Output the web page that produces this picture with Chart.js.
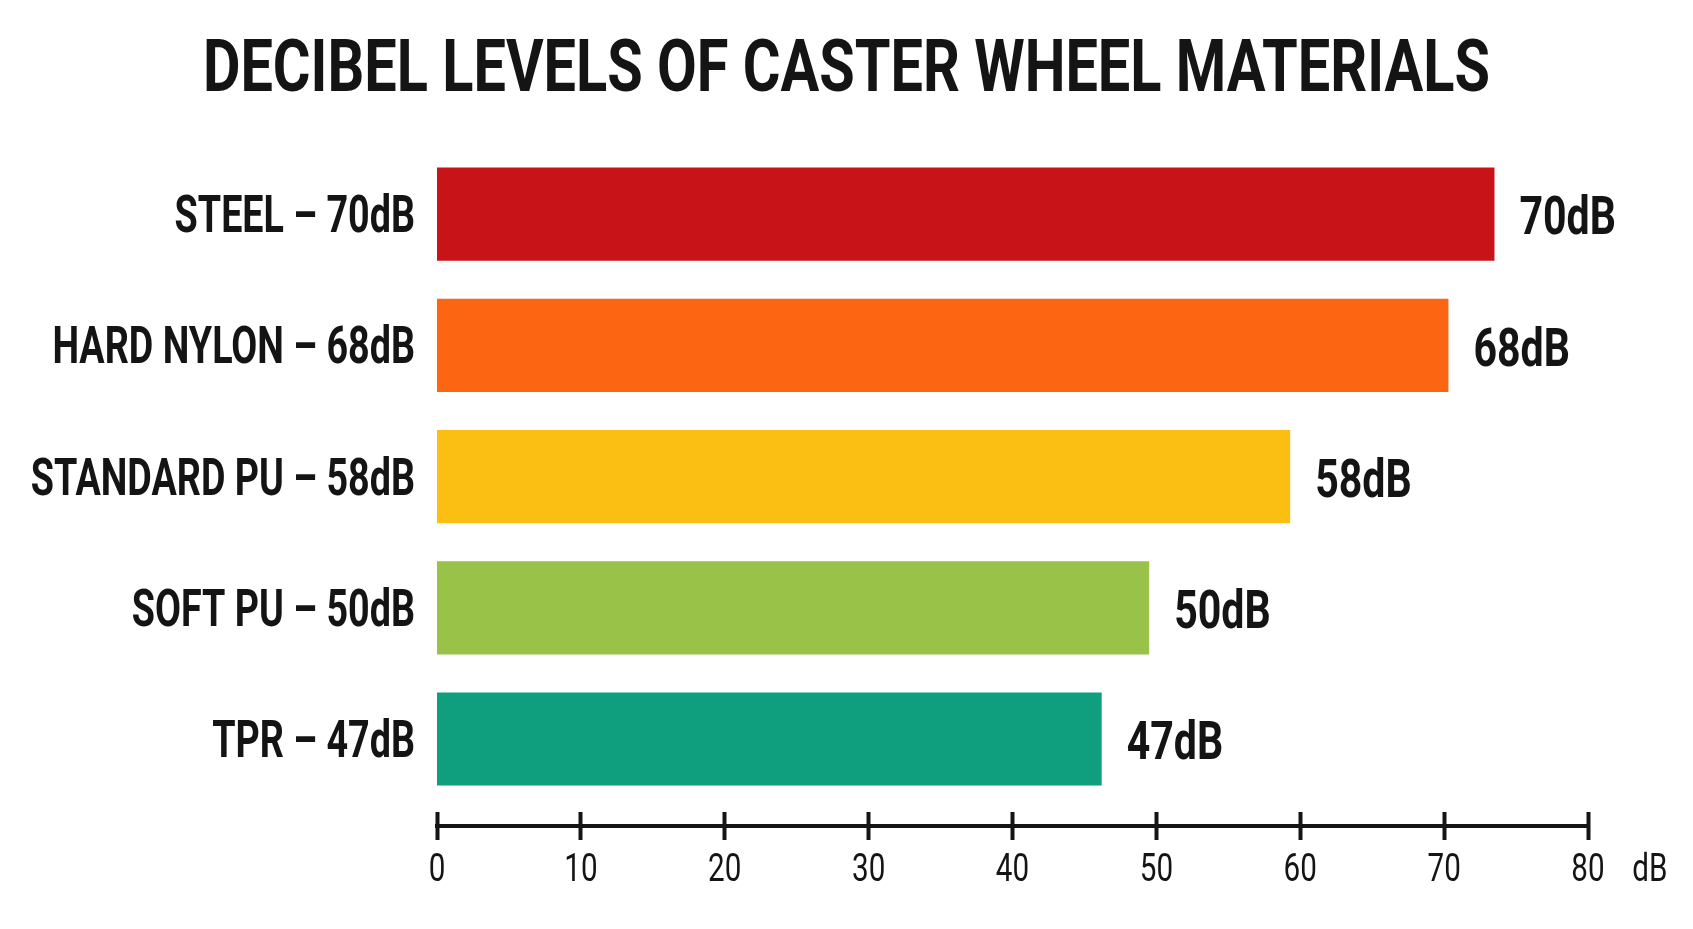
<!DOCTYPE html>
<html lang="en">
<head>
  <meta charset="UTF-8">
  <title>Decibel Levels of Caster Wheel Materials</title>
  <script src="https://cdn.jsdelivr.net/npm/chart.js"></script>
  <style>
    html, body { margin: 0; padding: 0; background: #fff; }
    #wrap { width: 1693px; height: 929px; }
  </style>
</head>
<body>
  <div id="wrap"><canvas id="dbChart"></canvas></div>

  <script>
    // values
    const materials = ['STEEL – 70dB', 'HARD NYLON – 68dB', 'STANDARD PU – 58dB', 'SOFT PU – 50dB', 'TPR – 47dB'];
    const barValues = [73.5, 70.3, 59.3, 49.5, 46.2];
    const valueLabels = ['70dB', '68dB', '58dB', '50dB', '47dB'];
    const barColors = ['#c81418', '#fc6613', '#fbbf14', '#99c248', '#0f9e7e'];
    const xTickValues = [0, 10, 20, 30, 40, 50, 60, 70, 80];
    const unitLabel = 'dB';
    const unitPos = 84.3;

    const ink = '#141414';
    const fam = 'Roboto, "DejaVu Sans", sans-serif';

    const canvas = document.getElementById('dbChart');
    const ctx = canvas.getContext('2d');

    // the reference uses a tall condensed face, squeeze the text horizontally
    // (how much depends on which text it is, picked by font size)
    const squeezeBySize = { 73: 0.79, 53: 0.775, 52: 0.725, 39: 0.76 };
    const rawFill = ctx.fillText;
    ctx.fillText = function (text, x, y, maxWidth) {
      const m = this.font.match(/(\d+(?:\.\d+)?)px/);
      const squeeze = (m && squeezeBySize[Math.round(+m[1])]) || 0.78;
      this.save();
      this.translate(x, y);
      this.scale(squeeze, 1);
      if (maxWidth === undefined) rawFill.call(this, text, 0, 0);
      else rawFill.call(this, text, 0, 0, maxWidth / squeeze);
      this.restore();
    };

    const valueLabelPlugin = {
      id: 'valueLabels',
      afterDatasetsDraw(chart) {
        const c = chart.ctx;
        const meta = chart.getDatasetMeta(0);
        c.save();
        c.font = 'bold 53px ' + fam;
        c.fillStyle = ink;
        c.textAlign = 'left';
        c.textBaseline = 'middle';
        meta.data.forEach((bar, i) => {
          c.fillText(valueLabels[i], bar.x + 25, bar.y + 7);
        });
        c.restore();
      }
    };

    new Chart(ctx, {
      type: 'bar',
      data: {
        datasets: [{
          data: barValues.map((v, i) => ({ x: v, y: i })),
          backgroundColor: barColors,
          borderWidth: 0,
          barPercentage: 0.71,
          categoryPercentage: 1
        }]
      },
      options: {
        indexAxis: 'y',
        responsive: true,
        maintainAspectRatio: false,
        animation: false,
        layout: { padding: 0 },
        plugins: {
          legend: { display: false },
          tooltip: { enabled: false },
          title: {
            display: true,
            text: 'DECIBEL LEVELS OF CASTER WHEEL MATERIALS',
            color: ink,
            font: { family: fam, size: 73, weight: 'bold', lineHeight: 1.2 },
            padding: { top: 29, bottom: 32 }
          }
        },
        scales: {
          y: {
            type: 'linear',
            position: 'left',
            reverse: true,
            offset: false,
            min: -0.5,
            max: 4.663,
            afterBuildTicks: s => { s.ticks = materials.map((_, i) => ({ value: i })); },
            afterFit: s => { s.width = 437; s.paddingTop = 0; s.paddingBottom = 0; },
            grid: { display: false },
            border: { display: false },
            ticks: {
              callback: v => materials[v],
              color: ink,
              padding: 14,
              labelOffset: 5,
              font: { family: fam, size: 52, weight: 'bold' }
            }
          },
          yRight: {
            type: 'linear',
            axis: 'y',
            position: 'right',
            afterFit: s => { s.width = 105; s.paddingTop = 0; s.paddingBottom = 0; },
            grid: { display: false },
            border: { display: false },
            ticks: { display: false }
          },
          x: {
            type: 'linear',
            position: 'bottom',
            min: 0,
            max: 80,
            afterBuildTicks: s => {
              s.ticks = xTickValues.map(v => ({ value: v })).concat([{ value: unitPos }]);
            },
            afterFit: s => { s.height = 103; s.paddingLeft = 0; s.paddingRight = 0; },
            grid: { display: false },
            border: { display: true, color: ink, width: 4 },
            ticks: {
              autoSkip: false,
              maxRotation: 0,
              padding: 14,
              color: ink,
              font: { family: fam, size: 39 },
              callback: v => (v === unitPos ? unitLabel : v)
            }
          },
          xMarks: {
            type: 'linear',
            axis: 'x',
            position: { y: 4.556 },
            min: 0,
            max: 80,
            afterFit: s => { s.height = 0; s.paddingLeft = 0; s.paddingRight = 0; },
            ticks: { display: false, stepSize: 10 },
            border: { display: false },
            grid: {
              drawOnChartArea: false,
              drawTicks: true,
              tickLength: 28,
              tickWidth: 4,
              tickColor: ink
            }
          }
        }
      },
      plugins: [valueLabelPlugin]
    });
  </script>
</body>
</html>
